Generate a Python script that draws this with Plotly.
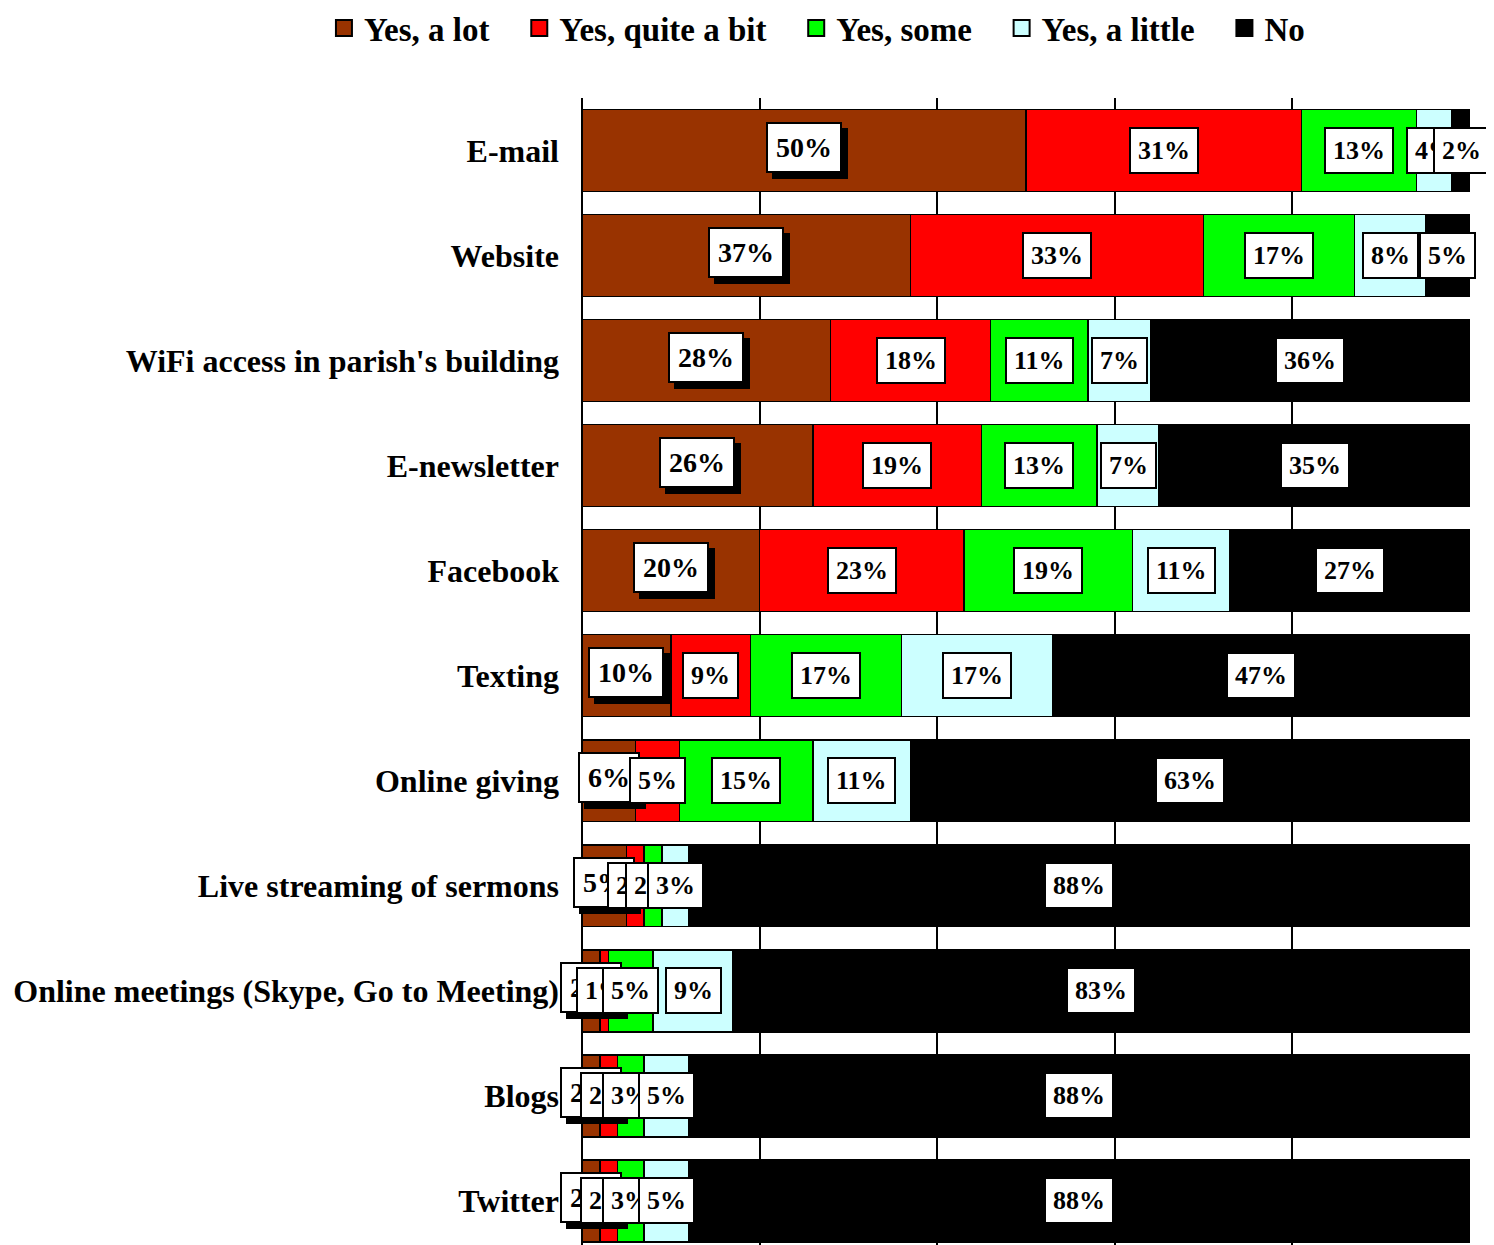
import plotly.graph_objects as go

categories = ["E-mail", "Website", "WiFi access in parish's building", "E-newsletter",
              "Facebook", "Texting", "Online giving", "Live streaming of sermons",
              "Online meetings (Skype, Go to Meeting)", "Blogs", "Twitter"]

a_lot = [50, 37, 28, 26, 20, 10, 6, 5, 2, 2, 2]
quite_a_bit = [31, 33, 18, 19, 23, 9, 5, 2, 1, 2, 2]
some = [13, 17, 11, 13, 19, 17, 15, 2, 5, 3, 3]
a_little = [4, 8, 7, 7, 11, 17, 11, 3, 9, 5, 5]
no = [2, 5, 36, 35, 27, 47, 63, 88, 83, 88, 88]

series_names = ["Yes, a lot", "Yes, quite a bit", "Yes, some", "Yes, a little", "No"]
series_vals = [a_lot, quite_a_bit, some, a_little, no]
colors = ["#993300", "#FF0000", "#00FF00", "#CCFFFF", "#000000"]

FONT = "Liberation Serif"
NBSP = "\u00a0"

fig = go.Figure()

for name, vals, col in zip(series_names, series_vals, colors):
    fig.add_trace(go.Bar(y=categories, x=vals, orientation='h', name=name,
                         marker=dict(color=col, line=dict(color='black', width=1.5)),
                         showlegend=False))

# dummy traces so legend squares are bigger
for k, (name, col) in enumerate(zip(series_names, colors)):
    pad = NBSP * 3 if k < len(series_names) - 1 else ""
    fig.add_trace(go.Scatter(x=[None], y=[None], mode='markers', name=name + pad,
                             marker=dict(symbol='square', size=16, color=col,
                                         line=dict(color='black', width=2))))

annotations = []
for i, cat in enumerate(categories):
    cum = 0
    for s, vals in enumerate(series_vals):
        v = vals[i]
        xc = cum + v / 2
        cum += v
        txt = f"{v}%"
        if s == 0:
            # shadow behind the first label
            annotations.append(dict(x=xc, y=cat, xref='x', yref='y', text=txt, showarrow=False,
                                    font=dict(size=28, color='black', family=FONT, weight='bold'),
                                    bgcolor='black', bordercolor='black', borderwidth=2, borderpad=8,
                                    xshift=6, yshift=-3))
            annotations.append(dict(x=xc, y=cat, xref='x', yref='y', text=txt, showarrow=False,
                                    font=dict(size=28, color='black', family=FONT, weight='bold'),
                                    bgcolor='white', bordercolor='black', borderwidth=2, borderpad=8,
                                    yshift=3))
        else:
            annotations.append(dict(x=xc, y=cat, xref='x', yref='y', text=txt, showarrow=False,
                                    font=dict(size=26, color='black', family=FONT, weight='bold'),
                                    bgcolor='white', bordercolor='black', borderwidth=2, borderpad=7))

fig.update_layout(
    barmode='stack', bargap=0.22,
    font=dict(family=FONT, color='black', weight='bold'),
    xaxis=dict(range=[0, 100], dtick=20, showgrid=True, gridcolor='black', gridwidth=2,
               showticklabels=False, zeroline=True, zerolinecolor='black', zerolinewidth=2,
               fixedrange=True),
    yaxis=dict(range=[10.42, -0.5], tickfont=dict(size=32, color='black', family=FONT, weight='bold'),
               ticklabelstandoff=22, showgrid=False),
    legend=dict(orientation='h', x=-0.2906, xanchor='left', y=1.061, yanchor='middle',
                font=dict(size=33, color='black', family=FONT, weight='bold'),
                itemsizing='trace', traceorder='normal'),
    annotations=annotations,
    plot_bgcolor='white', paper_bgcolor='white',
    margin=dict(l=574, r=24, t=90, b=0, autoexpand=False),
    width=1486, height=1237,
)

fig.write_html("out.html")
